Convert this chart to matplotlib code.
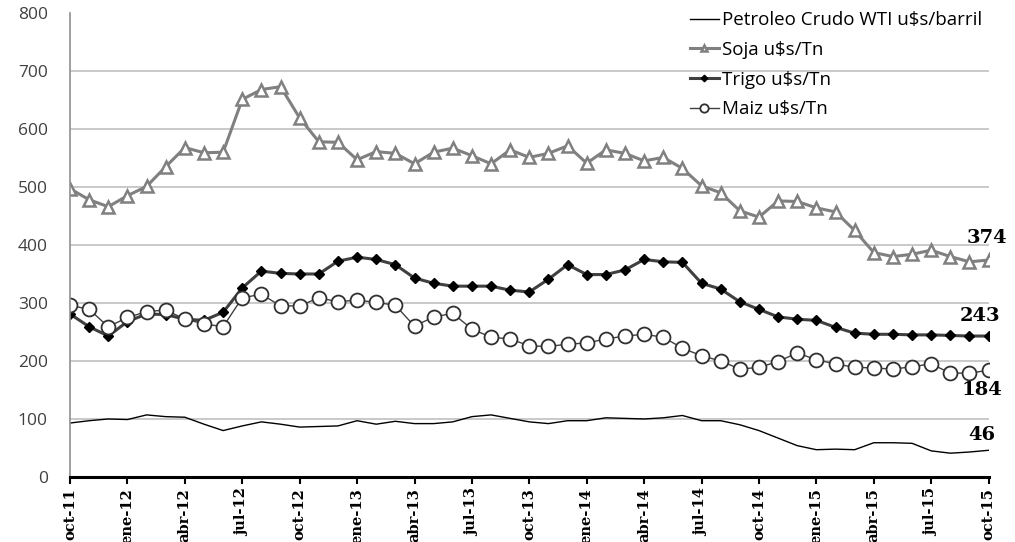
from matplotlib import pyplot as plt
import numpy as np

months = ['oct', 'nov', 'dic', 'ene', 'feb', 'mar', 'abr', 'may', 'jun', 'jul', 'ago', 'sep']
dates = []
for i in range(49):
    m = months[i % 12]
    yr = 11 + (i + 9) // 12
    dates.append('%s-%d' % (m, yr))

petroleo = [93, 97, 100, 99, 107, 104, 103, 91, 80, 88, 95, 91, 86, 87, 88,
            97, 91, 96, 92, 92, 95, 104, 107, 101, 95, 92, 97, 97, 102, 101,
            100, 102, 106, 97, 97, 90, 80, 67, 54, 47, 48, 47, 59, 59, 58,
            45, 41, 43, 46]
soja = [497, 478, 466, 485, 501, 535, 568, 559, 560, 651, 668, 673, 619, 578, 577,
        547, 561, 558, 540, 560, 567, 554, 540, 564, 551, 558, 571, 541, 564, 558,
        545, 551, 532, 502, 490, 459, 448, 476, 475, 464, 457, 425, 387, 380, 384,
        391, 380, 371, 374]
trigo = [281, 259, 243, 268, 281, 280, 272, 270, 284, 326, 355, 351, 350, 350, 372,
         379, 375, 366, 343, 334, 329, 329, 329, 322, 319, 341, 366, 349, 349, 357,
         375, 371, 370, 334, 324, 302, 289, 276, 272, 270, 258, 248, 246, 246, 245,
         245, 244, 243, 243]
maiz = [296, 289, 259, 275, 285, 288, 272, 264, 259, 309, 315, 295, 295, 309, 302,
        305, 301, 296, 260, 276, 282, 255, 241, 238, 226, 225, 229, 231, 238, 243,
        246, 241, 222, 209, 200, 186, 189, 199, 214, 202, 195, 189, 188, 186, 190,
        195, 179, 179, 184]

x = np.arange(len(dates))

fig = plt.figure(figsize=(10.15, 5.42), dpi=100)
ax = fig.add_axes([0.069, 0.12, 0.905, 0.856])

ax.plot(x, petroleo, color='black', linewidth=1.0, label='Petroleo Crudo WTI u$s/barril')
ax.plot(x, soja, color='#808080', linewidth=2.2, marker='^', markersize=8,
        markerfacecolor='white', markeredgecolor='#808080', markeredgewidth=1.8,
        label='Soja u$s/Tn')
ax.plot(x, trigo, color='#404040', linewidth=2.2, marker='D', markersize=5.5,
        markerfacecolor='black', markeredgecolor='black', label='Trigo u$s/Tn')
ax.plot(x, maiz, color='#404040', linewidth=1.0, marker='o', markersize=10,
        markerfacecolor='white', markeredgecolor='#303030', markeredgewidth=1.3,
        label='Maiz u$s/Tn')

ax.set_xlim(0, 48)
ax.set_ylim(0, 800)
ax.set_yticks(range(0, 801, 100))
for v in range(100, 800, 100):
    ax.axhline(v, color='#c0c0c0', linewidth=1.2, zorder=0)

ax.set_xticks(x[::3])
ax.set_xticklabels(dates[::3], rotation=90, family='DejaVu Serif',
                   fontweight='bold', fontsize=10.5)
ax.tick_params(axis='x', direction='out', length=5, width=1.5, color='black', pad=3)
ax.tick_params(axis='y', length=0, labelsize=12.5, labelcolor='#404040', pad=16)
for lab in ax.get_yticklabels():
    lab.set_family('Open Sans')

ax.spines['top'].set_visible(False)
ax.spines['right'].set_visible(False)
ax.spines['left'].set_color('#909090')
ax.spines['left'].set_linewidth(1.2)
ax.spines['bottom'].set_color('black')
ax.spines['bottom'].set_linewidth(2.2)

# etiquetas del ultimo valor
ends = [(soja[-1], -1, 16), (trigo[-1], -6, 14.5), (maiz[-1], -5, -14.5),
        (petroleo[-1], -5, 11)]
for val, dx, dy in ends:
    ax.annotate(str(val), (48, val), xytext=(dx, dy), textcoords='offset points',
                ha='center', va='center', fontsize=14, fontweight='bold',
                family='DejaVu Serif')

leg = ax.legend(loc='upper right', bbox_to_anchor=(1.011, 1.04), frameon=False,
                handlelength=1.55, handletextpad=0.15, markerscale=0.6,
                labelspacing=0.62, prop={'family': 'Open Sans', 'size': 13.5})

fig.savefig('out.png', dpi=100)
